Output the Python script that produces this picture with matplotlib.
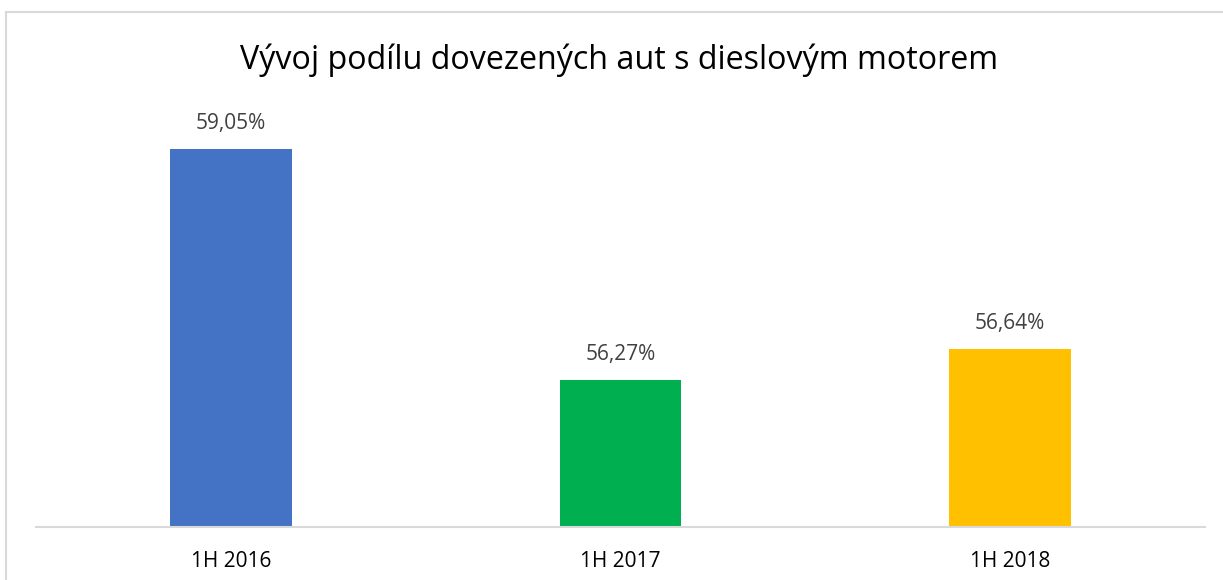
import matplotlib
matplotlib.use("Agg")
import matplotlib.pyplot as plt
from matplotlib.lines import Line2D

categories = ["1H 2016", "1H 2017", "1H 2018"]
values = [59.05, 56.27, 56.64]
labels = ["59,05%", "56,27%", "56,64%"]
colors = ["#4472C4", "#00B050", "#FFC000"]
title = "Vývoj podílu dovezených aut s dieslovým motorem"

plt.rcParams['font.family'] = ['Open Sans', 'DejaVu Sans']

W, H = 1223, 580
fig = plt.figure(figsize=(W / 100, H / 100), dpi=100)
fig.patch.set_facecolor("white")

# outer chart border (top and left visible)
fig.add_artist(Line2D([6 / W, 1.0], [1 - 12 / H, 1 - 12 / H], color="#D9D9D9", lw=1.5))
fig.add_artist(Line2D([6 / W, 6 / W], [0, 1 - 12 / H], color="#D9D9D9", lw=1.5))

left, right = 36 / W, 1205 / W
bottom = (H - 527) / H
top = (H - 70) / H
ax = fig.add_axes([left, bottom, right - left, top - bottom])
ax.set_facecolor("none")

x = list(range(len(categories)))
ax.bar(x, values, width=0.313, color=colors, bottom=0)
ax.set_xlim(-0.5, len(categories) - 0.5)
ax.set_ylim(54.5, 60)

for xi, v, lab in zip(x, values, labels):
    ax.annotate(lab, (xi, v), xytext=(0, 11), textcoords="offset points",
                ha="center", va="bottom", fontsize=15, color="#404040")

for s in ["top", "right", "left"]:
    ax.spines[s].set_visible(False)
ax.spines["bottom"].set_color("#D9D9D9")
ax.spines["bottom"].set_linewidth(1.5)
ax.set_yticks([])
ax.set_xticks(x)
ax.set_xticklabels(categories, fontsize=15, color="#000000")
ax.tick_params(axis="x", length=0, pad=17)

fig.text(619 / W, 1 - 60 / H, title, ha="center", va="center", fontsize=23.2, color="#000000")

fig.savefig("out.png", dpi=100, facecolor="white")
